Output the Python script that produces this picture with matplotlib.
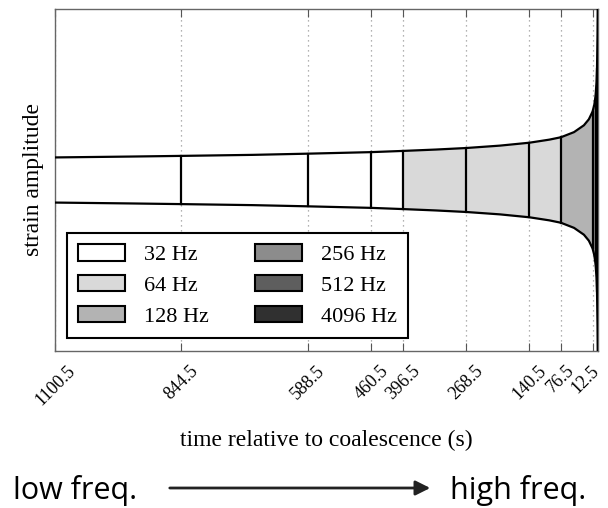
import matplotlib
matplotlib.use('Agg')
import matplotlib.pyplot as plt
from matplotlib.patches import Patch
import numpy as np

# tick positions (s before coalescence)
tick_times = [1100.5, 844.5, 588.5, 460.5, 396.5, 268.5, 140.5, 76.5, 12.5]

# strain envelope (half amplitude, arbitrary units)
env_t = [1100.5, 950, 844.5, 700, 588.5, 460.5, 396.5, 330, 268.5, 200, 140.5, 100,
         76.5, 50, 30, 20, 12.5, 9, 6.5, 4.5, 3.5, 2.5, 1.8, 1.2]
env_h = [0.132, 0.137, 0.141, 0.147, 0.154, 0.163, 0.170, 0.178, 0.187, 0.201, 0.218, 0.236,
         0.250, 0.28, 0.32, 0.355, 0.40, 0.44, 0.49, 0.57, 0.65, 0.85, 1.1, 1.3]

# band edges and the sampling rate used in each band
band_edges = [1100.5, 844.5, 588.5, 460.5, 396.5, 268.5, 140.5, 76.5, 12.5, 6.5, 3.5, 1.2]
band_freq = [32, 32, 32, 32, 64, 64, 64, 128, 256, 512, 4096]

freqs = [32, 64, 128, 256, 512, 4096]
freq_colors = {32: '#ffffff', 64: '#d9d9d9', 128: '#b3b3b3', 256: '#8c8c8c',
               512: '#5e5e5e', 4096: '#303030'}

serif = ['Liberation Serif', 'DejaVu Serif']

fig = plt.figure(figsize=(6.08, 5.08), dpi=100)
ax = fig.add_axes([55/608, 1 - 351/508, 543/608, 342/508])

t = np.array(env_t)
h = np.array(env_h)

for i, f in enumerate(band_freq):
    hi, lo = band_edges[i], band_edges[i + 1]
    m = (t <= hi) & (t >= lo)
    ax.fill_between(t[m], -h[m], h[m], color=freq_colors[f], lw=0, zorder=2)

ax.plot(t, h, color='black', lw=1.6, zorder=4)
ax.plot(t, -h, color='black', lw=1.6, zorder=4)
for b in band_edges[1:-1]:
    k = env_t.index(b)
    ax.plot([b, b], [-env_h[k], env_h[k]], color='black', lw=1.6, zorder=4)

ax.set_xlim(1100.5, 1.5)
ax.set_ylim(-1, 1)
ax.set_xticks(tick_times)
# last label is drawn separately, nudged left so it stays inside the figure
tick_labels = [str(v) for v in tick_times[:-1]] + ['']
ax.set_xticklabels(tick_labels, rotation=45, ha='center', family=serif, fontsize=13)
ax.annotate(str(tick_times[-1]), xy=(tick_times[-1], 0), xycoords=('data', 'axes fraction'),
            xytext=(-5, -8), textcoords='offset points', rotation=45, ha='center',
            va='top', family=serif, fontsize=13)
ax.set_yticks([])
ax.tick_params(axis='x', direction='in', top=True, length=6, color='#555555', pad=8)
ax.grid(axis='x', linestyle=(0, (1, 3)), color='#999999', lw=0.9, zorder=1)
ax.set_axisbelow(True)
for s in ax.spines.values():
    s.set_color('#666666')
    s.set_linewidth(1.0)

ax.set_xlabel('time relative to coalescence (s)', family=serif, fontsize=17, labelpad=15)
ax.set_ylabel('strain amplitude', family=serif, fontsize=17, labelpad=8)

handles = [Patch(facecolor=freq_colors[f], edgecolor='black', lw=1.5, label=f'{f} Hz')
           for f in freqs]
leg = ax.legend(handles=handles, ncol=2, loc='lower left',
                bbox_to_anchor=(12/543, 13/342), borderaxespad=0,
                prop={'family': serif, 'size': 16}, fancybox=False,
                edgecolor='black', framealpha=1, handlelength=2.1, handleheight=0.75,
                handletextpad=0.85, columnspacing=2.1, labelspacing=0.45,
                borderpad=0.5)
leg.get_frame().set_linewidth(1.5)
leg.set_zorder(5)

sans = ['Open Sans', 'DejaVu Sans']
fig.text(13/608, 1 - 491/508, 'low freq.', family=sans, fontsize=22, va='center', ha='left')
fig.text(450/608, 1 - 491/508, 'high freq.', family=sans, fontsize=22, va='center', ha='left')
fig.add_artist(matplotlib.patches.FancyArrowPatch(
    (167/608, 1 - 488/508), (433/608, 1 - 488/508), transform=fig.transFigure,
    arrowstyle='-|>', mutation_scale=22, lw=2, color='#222222'))

fig.savefig('out.png', dpi=100)
